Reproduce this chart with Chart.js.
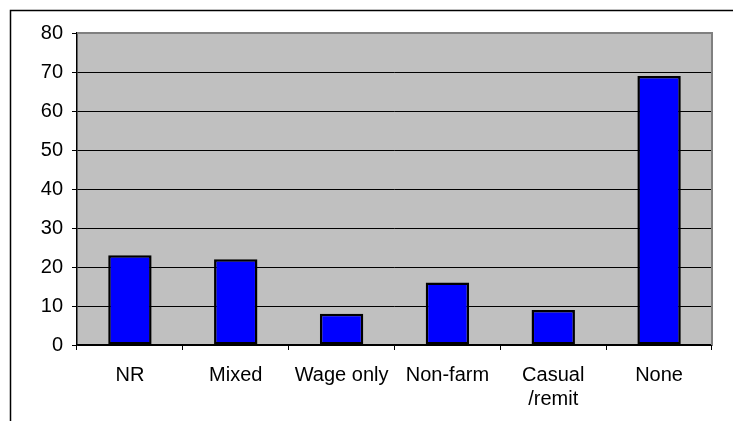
<!DOCTYPE html>
<html>
<head>
<meta charset="utf-8">
<script src="https://cdn.jsdelivr.net/npm/chart.js@4"></script>
<style>
    html, body { margin: 0; padding: 0; background: #fff; }
    #wrap { width: 733px; height: 421px; position: relative; }
</style>
</head>
<body>
<div id="wrap"><canvas id="chart" width="733" height="421"></canvas></div>
<script>
// data
var categories = ["NR", "Mixed", "Wage only", "Non-farm", ["Casual", "/remit"], "None"];
var values = [23, 22, 8, 16, 9, 69];
var yTicks = [0, 10, 20, 30, 40, 50, 60, 70, 80];

// frame + grey plot background
var plotBack = {
    id: "plotBack",
    beforeDraw: function (chart) {
        var ctx = chart.ctx;
        var a = chart.chartArea;
        ctx.save();
        ctx.strokeStyle = "#000";
        ctx.lineWidth = 1.5;
        ctx.beginPath();
        ctx.moveTo(733, 10.5);
        ctx.lineTo(10.5, 10.5);
        ctx.lineTo(10.5, 421);
        ctx.stroke();
        ctx.fillStyle = "#c0c0c0";
        ctx.fillRect(a.left, a.top, a.right - a.left, a.bottom - a.top);
        ctx.restore();
    },
    afterDatasetsDraw: function (chart) {
        var ctx = chart.ctx;
        var a = chart.chartArea;
        ctx.save();
        ctx.strokeStyle = "#808080";
        ctx.lineWidth = 2;
        ctx.beginPath();
        ctx.moveTo(a.left, a.top);
        ctx.lineTo(a.right, a.top);
        ctx.lineTo(a.right, a.bottom);
        ctx.stroke();
        ctx.restore();
    },
};

Chart.defaults.font.family = "'Liberation Sans', Arial, sans-serif";
Chart.defaults.font.size = 20;
Chart.defaults.color = "#000";

new Chart("chart", {
    type: "bar",
    plugins: [plotBack],
    data: {
        labels: categories,
        datasets: [
            {
                data: values,
                backgroundColor: "#0000ff",
                borderColor: "#000",
                borderWidth: 2.5,
                borderSkipped: false,
                categoryPercentage: 1,
                barPercentage: 0.41,
            },
        ],
    },
    options: {
        responsive: false,
        animation: false,
        layout: { padding: { top: 33, right: 21, left: 0, bottom: 0 } },
        plugins: { legend: { display: false }, tooltip: { enabled: false } },
        scales: {
            y: {
                min: 0,
                max: 80,
                afterFit: function (scale) {
                    scale.width = 77;
                },
                afterBuildTicks: function (scale) {
                    scale.ticks = yTicks.map(function (v) {
                        return { value: v };
                    });
                },
                ticks: { padding: 9 },
                grid: {
                    color: "#000",
                    lineWidth: 1,
                    tickLength: 5,
                },
                border: { color: "#000", width: 1.5 },
            },
            x: {
                afterFit: function (scale) {
                    scale.height = 76;
                },
                ticks: { padding: 13, maxRotation: 0, autoSkip: false },
                grid: {
                    offset: true,
                    drawOnChartArea: false,
                    color: "#000",
                    tickLength: 5,
                },
                border: { color: "#000", width: 1.5 },
            },
        },
    },
});
</script>
</body>
</html>
